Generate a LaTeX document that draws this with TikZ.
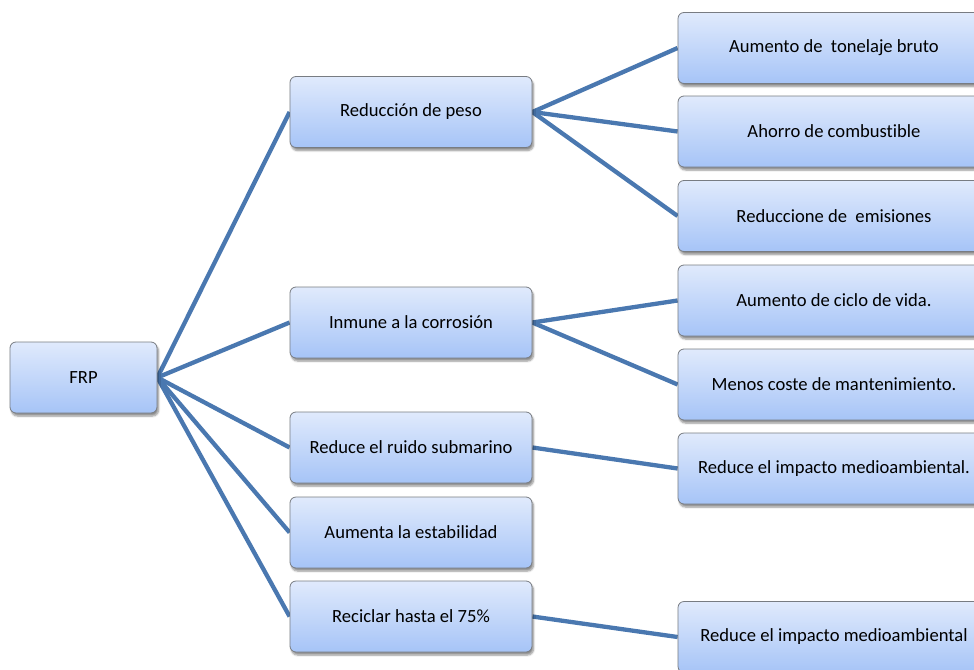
\documentclass[tikz,border=0pt]{standalone}
\usepackage{fontspec}
\setmainfont[Ligatures={NoCommon}]{Carlito}
\usetikzlibrary{shadows.blur}
\definecolor{boxtop}{RGB}{224,234,252}
\definecolor{boxbot}{RGB}{166,196,247}
\definecolor{linkblue}{RGB}{74,120,176}
\definecolor{boxline}{RGB}{120,124,130}
\pgfdeclarelayer{background}
\pgfsetlayers{background,main}
\begin{document}
\begin{tikzpicture}[x=1pt,y=-1pt,
  box/.style={draw=boxline, line width=0.8pt, rounded corners=6pt,
    top color=boxtop, bottom color=boxbot,
    blur shadow={shadow xshift=1.5pt, shadow yshift=-3pt, shadow blur steps=6, shadow opacity=45},
    font=\fontsize{18.6}{22}\selectfont, inner sep=0pt, align=center, minimum height=71pt},
  lbox/.style={box, minimum width=147pt},
  mbox/.style={box, minimum width=242pt},
  rbox/.style={box, minimum width=312pt},
  link/.style={draw=linkblue, line width=4.3pt}]
\useasboundingbox (0,0) rectangle (974,669);
\node[lbox] (frp) at (83.5,377.5) {FRP};
\node[mbox] (m1) at (411,112) {Reducción de peso};
\node[mbox] (m2) at (411,322.5) {Inmune a la corrosión};
\node[mbox] (m3) at (411,447.5) {Reduce el ruido submarino};
\node[mbox] (m4) at (411,532.5) {Aumenta la estabilidad};
\node[mbox] (m5) at (411,616.5) {Reciclar hasta el 75\%};
\node[rbox] (r1) at (834,48) {Aumento de\ \ tonelaje bruto};
\node[rbox] (r2) at (834,131.5) {Ahorro de combustible};
\node[rbox] (r3) at (834,216) {Reduccione de\ \ emisiones};
\node[rbox] (r4) at (834,300.5) {Aumento de ciclo de vida.};
\node[rbox] (r5) at (834,384.5) {Menos coste de mantenimiento.};
\node[rbox] (r6) at (834,468.5) {Reduce el impacto medioambiental.};
\node[rbox] (r7) at (834,637) {Reduce el impacto medioambiental};
\begin{pgfonlayer}{background}
\foreach \m in {m1,m2,m3,m4,m5} \draw[link] (frp.east) -- (\m.west);
\foreach \r in {r1,r2,r3} \draw[link] (m1.east) -- (\r.west);
\foreach \r in {r4,r5} \draw[link] (m2.east) -- (\r.west);
\draw[link] (m3.east) -- (r6.west);
\draw[link] (m5.east) -- (r7.west);
\end{pgfonlayer}
\end{tikzpicture}
\end{document}
